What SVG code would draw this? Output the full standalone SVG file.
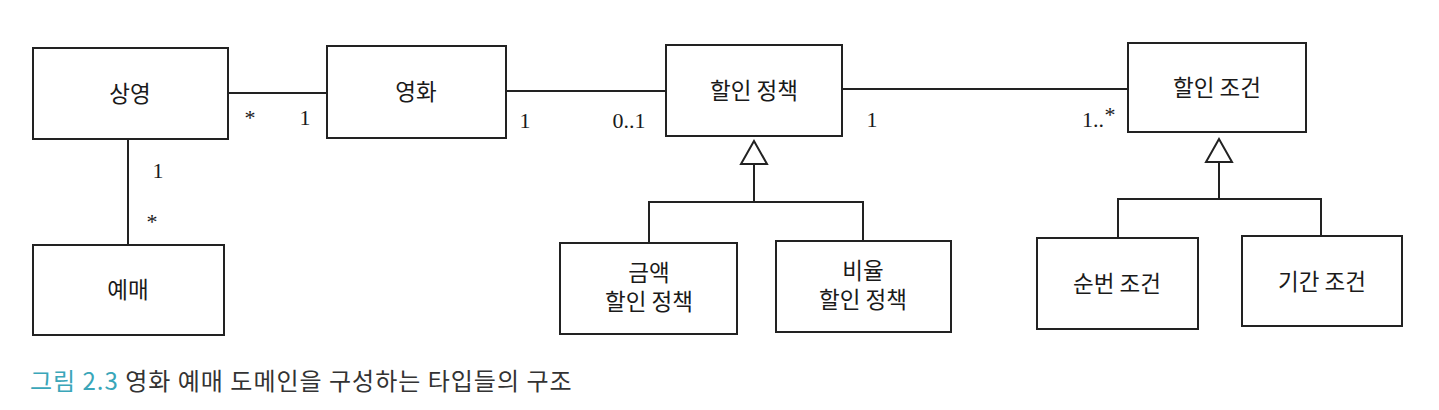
<svg xmlns="http://www.w3.org/2000/svg" width="1439" height="410" viewBox="0 0 1439 410">
<style>
.box{fill:#fff;stroke:#222;stroke-width:2}
.lbl{font-family:"Noto Sans CJK KR","Noto Sans",sans-serif;font-size:22.5px;fill:#1a1a1a;text-anchor:middle}
.mul{font-family:"Liberation Serif","DejaVu Serif",serif;font-size:22px;fill:#1a1a1a}
.ln{fill:none;stroke:#222;stroke-width:2}
.tri{fill:#fff;stroke:#222;stroke-width:2;stroke-linejoin:miter}
.cap{font-family:"Noto Sans CJK KR",sans-serif;font-size:24px;letter-spacing:1px;fill:#333}
</style>
<rect width="1439" height="410" fill="#fff"/>
<g id="connectors">
<line class="ln" x1="228" y1="93" x2="327" y2="93"/>
<line class="ln" x1="128" y1="139" x2="128" y2="245"/>
<line class="ln" x1="506" y1="91" x2="666" y2="91"/>
<line class="ln" x1="842" y1="89" x2="1128" y2="89"/>
<polyline class="ln" points="649,243 649,202 863,202 863,241"/>
<line class="ln" x1="754" y1="164" x2="754" y2="202"/>
<polygon class="tri" points="754,141 741,164 767,164"/>
<polyline class="ln" points="1118,238 1118,199 1321,199 1321,236"/>
<line class="ln" x1="1219" y1="162" x2="1219" y2="199"/>
<polygon class="tri" points="1219,139 1206,162 1232,162"/>
<text class="mul" x="250" y="125" text-anchor="middle" font-size="16">*</text>
<text class="mul" x="305" y="125" text-anchor="middle">1</text>
<text class="mul" x="158" y="178" text-anchor="middle">1</text>
<text class="mul" x="152" y="229" text-anchor="middle" font-size="16">*</text>
<text class="mul" x="525" y="128" text-anchor="middle">1</text>
<text class="mul" x="629" y="128" text-anchor="middle">0..1</text>
<text class="mul" x="872" y="127" text-anchor="middle">1</text>
<text class="mul" x="1093" y="127" text-anchor="middle">1..</text>
<text class="mul" x="1110" y="122" text-anchor="middle" font-size="16">*</text>
</g>
<g id="screening"><rect class="box" x="33" y="48" width="195" height="91"/><text class="lbl" x="130" y="102">상영</text></g>
<g id="reservation"><rect class="box" x="33" y="245" width="191" height="90"/><text class="lbl" x="128" y="298">예매</text></g>
<g id="movie"><rect class="box" x="327" y="46" width="179" height="92"/><text class="lbl" x="416" y="100">영화</text></g>
<g id="discount-policy"><rect class="box" x="666" y="45" width="176" height="91"/><text class="lbl" x="754" y="99">할인 정책</text></g>
<g id="amount-policy"><rect class="box" x="560" y="243" width="177" height="91"/><text class="lbl" x="649" y="281">금액</text><text class="lbl" x="649" y="310">할인 정책</text></g>
<g id="percent-policy"><rect class="box" x="776" y="241" width="175" height="91"/><text class="lbl" x="863" y="279">비율</text><text class="lbl" x="863" y="308">할인 정책</text></g>
<g id="discount-condition"><rect class="box" x="1128" y="43" width="178" height="89"/><text class="lbl" x="1217" y="96">할인 조건</text></g>
<g id="sequence-condition"><rect class="box" x="1037" y="238" width="161" height="91"/><text class="lbl" x="1117" y="292">순번 조건</text></g>
<g id="period-condition"><rect class="box" x="1242" y="236" width="160" height="90"/><text class="lbl" x="1322" y="290">기간 조건</text></g>
<text class="cap" x="30" y="390"><tspan fill="#3aa6b9">그림 2.3</tspan> 영화 예매 도메인을 구성하는 타입들의 구조</text>
</svg>
